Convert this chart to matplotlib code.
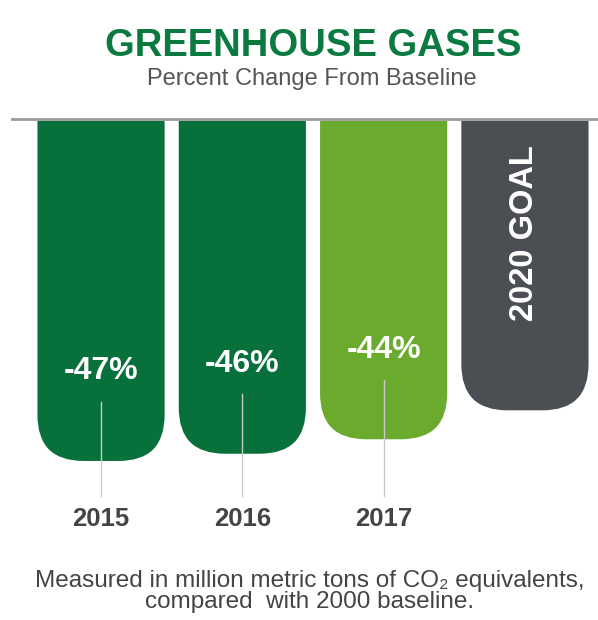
import matplotlib
matplotlib.use("Agg")
import matplotlib.pyplot as plt
from matplotlib.patches import FancyBboxPatch
from matplotlib.lines import Line2D

# ---- data ----
categories = ["2015", "2016", "2017", "2020 GOAL"]
values = [-47, -46, -44, -40]
value_labels = ["-47%", "-46%", "-44%", "2020 GOAL"]
year_labels = ["2015", "2016", "2017", ""]
colors = ["#08703a", "#08703a", "#6aab2e", "#4b4e52"]

title = "GREENHOUSE GASES"
subtitle = "Percent Change From Baseline"
footnote_lines = ["Measured in million metric tons of CO\u2082 equivalents,",
                  "compared  with 2000 baseline."]

W, H = 598, 620
fig = plt.figure(figsize=(W / 100, H / 100), dpi=100)
fig.patch.set_facecolor("white")

# axes geometry (pixels)
top_px, bot_px = 121, 555
ymin = -60.0
ax = fig.add_axes([0, 1 - bot_px / H, 1, (bot_px - top_px) / H])
xlim = (-0.715, 3.517)
ax.set_xlim(*xlim)
ax.set_ylim(ymin, 0)
ax.axis("off")

bar_w = 0.9
px_per_x = W / (xlim[1] - xlim[0])
px_per_y = (bot_px - top_px) / (0 - ymin)
r_px = 46
r_x = r_px / px_per_x
aspect = px_per_x / px_per_y

for i, (v, c) in enumerate(zip(values, colors)):
    p = FancyBboxPatch((i - bar_w / 2, v), bar_w, -v + 10,
                       boxstyle=f"round,pad=0,rounding_size={r_x}",
                       mutation_aspect=aspect, fc=c, ec="none", zorder=2)
    ax.add_patch(p)

fam = ["Liberation Sans", "DejaVu Sans"]

for i, v in enumerate(values):
    if i < 3:
        ax.text(i, v + 12.4, value_labels[i], ha="center", va="center",
                color="white", fontsize=23, fontweight="bold",
                family=fam, zorder=4)
        ax.plot([i, i], [v + 8.2, -51.9], color="#c9c9c9", lw=1.0, zorder=3,
                clip_on=False)
        ax.text(i, -55.0, year_labels[i], ha="center", va="center",
                color="#444444", fontsize=18.5, fontweight="bold",
                family=fam, zorder=4)
    else:
        ax.text(i, -15.5, value_labels[i], ha="center", va="center",
                rotation=90, color="white", fontsize=23.5, fontweight="bold",
                family=fam, zorder=4)

# baseline line
fig.add_artist(Line2D([12 / W, 1], [1 - 119 / H, 1 - 119 / H],
                      color="#9a9a9a", lw=2.0))

fig.text(0.523, 1 - 45.5 / H, title, ha="center", va="center", color="#0a7a40",
         fontsize=27.5, fontweight="bold", family=fam)
fig.text(0.521, 1 - 79 / H, subtitle, ha="center", va="center", color="#555555",
         fontsize=17, family=fam)
for k, line in enumerate(footnote_lines):
    fig.text(0.518, 1 - (587 + 21 * k) / H, line, ha="center", va="baseline",
             color="#444444", fontsize=17.5, family=fam)

fig.savefig("out.png", dpi=100, facecolor="white")
